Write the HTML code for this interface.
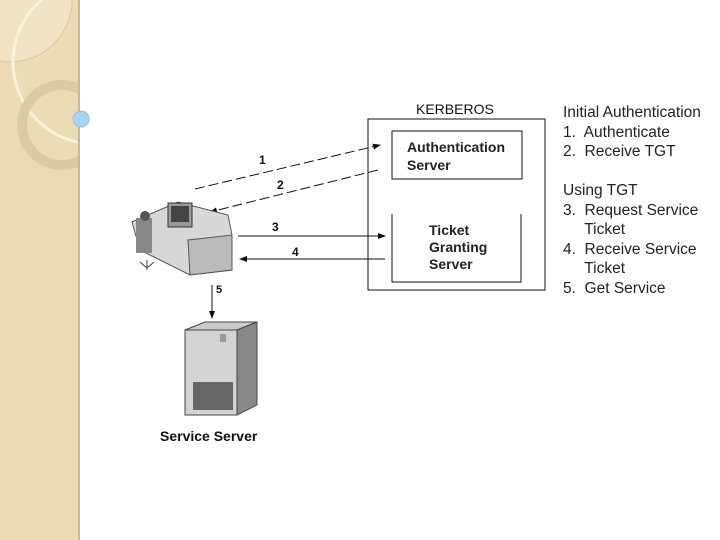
<!DOCTYPE html>
<html><head><style>
body{margin:0;width:720px;height:540px;position:relative;background:#fff;font-family:"Liberation Sans",sans-serif;overflow:hidden}
.t{position:absolute;color:#111;white-space:nowrap}
</style></head><body>
<div style="position:absolute;left:0;top:0;width:78px;height:540px;background:#ecdcb6;border-right:2px solid #c9b890"></div>
<svg width="720" height="540" style="position:absolute;left:0;top:0">
<clipPath id="c"><rect x="0" y="0" width="78" height="540"/></clipPath>
<circle cx="10" cy="0" r="62" fill="#f1e3c4" stroke="#d8c59c" stroke-width="1" clip-path="url(#c)"/>
<circle cx="95" cy="62" r="82" fill="none" stroke="#fbf3dc" stroke-width="3" clip-path="url(#c)"/>
<circle cx="62" cy="125" r="40" fill="none" stroke="#dccaa0" stroke-width="10" clip-path="url(#c)"/>
<circle cx="81" cy="119" r="8" fill="#a8d4ee" stroke="#8cc0e0"/>
<defs><marker id="a" markerWidth="8" markerHeight="6" refX="7" refY="3" orient="auto"><path d="M0,0L8,3L0,6z" fill="#111"/></marker></defs>
<rect x="368" y="119" width="177" height="171" fill="none" stroke="#111"/>
<rect x="392" y="131" width="130" height="48" fill="none" stroke="#111"/>
<path d="M392,214V282H521V214" fill="none" stroke="#111"/>
<g stroke="#111" stroke-width="1">
<line x1="195" y1="189" x2="380" y2="145" stroke-dasharray="10,4" marker-end="url(#a)"/>
<line x1="378" y1="170" x2="210" y2="212" stroke-dasharray="10,4" marker-end="url(#a)"/>
<line x1="238" y1="236" x2="385" y2="236" marker-end="url(#a)"/>
<line x1="385" y1="259" x2="240" y2="259" marker-end="url(#a)"/>
<line x1="212" y1="285" x2="212" y2="318" marker-end="url(#a)"/>
</g>
<polygon points="132,222 178,202 228,215 232,235 232,270 190,275 140,250" fill="#d8d8d8" stroke="#555"/>
<polygon points="188,240 232,235 232,270 190,275" fill="#bbb" stroke="#555"/>
<rect x="168" y="203" width="24" height="24" fill="#999" stroke="#333"/>
<rect x="171" y="206" width="18" height="16" fill="#444"/>
<rect x="136" y="218" width="16" height="35" fill="#888"/>
<circle cx="145" cy="216" r="5" fill="#555"/>
<path d="M140,262l7,6m0-8v10m7-8l-7,6" stroke="#444"/>
<polygon points="185,330 237,330 257,322 205,322" fill="#ccc" stroke="#444"/>
<rect x="185" y="330" width="52" height="85" fill="#d4d4d4" stroke="#444"/>
<polygon points="237,330 257,322 257,405 237,415" fill="#888" stroke="#444"/>
<rect x="193" y="382" width="40" height="28" fill="#666"/>
<rect x="220" y="334" width="6" height="8" fill="#999"/>
</svg>
<div class="t" style="left:416px;top:101px;font-size:14px">KERBEROS</div>
<div class="t" style="left:407px;top:138px;font-size:14px;line-height:18px;font-weight:bold;color:#222">Authentication<br>Server</div>
<div class="t" style="left:429px;top:222px;font-size:14px;line-height:17px;font-weight:bold;color:#222">Ticket<br>Granting<br>Server</div>
<div class="t" style="left:259px;top:153px;font-size:12px;font-weight:bold">1</div>
<div class="t" style="left:277px;top:178px;font-size:12px;font-weight:bold">2</div>
<div class="t" style="left:272px;top:220px;font-size:12px;font-weight:bold">3</div>
<div class="t" style="left:292px;top:245px;font-size:12px;font-weight:bold">4</div>
<div class="t" style="left:216px;top:284px;font-size:11px;font-weight:bold">5</div>
<div class="t" style="left:160px;top:428px;font-size:14px;font-weight:bold">Service Server</div>
<div class="t" style="left:563px;top:103px;font-size:15.5px;line-height:19.5px;color:#222">Initial Authentication<br>1.&nbsp; Authenticate<br>2.&nbsp; Receive TGT</div>
<div class="t" style="left:563px;top:181px;font-size:15.5px;line-height:19.5px;color:#222">Using TGT<br>3.&nbsp; Request Service<br>&nbsp;&nbsp;&nbsp;&nbsp; Ticket<br>4.&nbsp; Receive Service<br>&nbsp;&nbsp;&nbsp;&nbsp; Ticket<br>5.&nbsp; Get Service</div>
</body></html>
